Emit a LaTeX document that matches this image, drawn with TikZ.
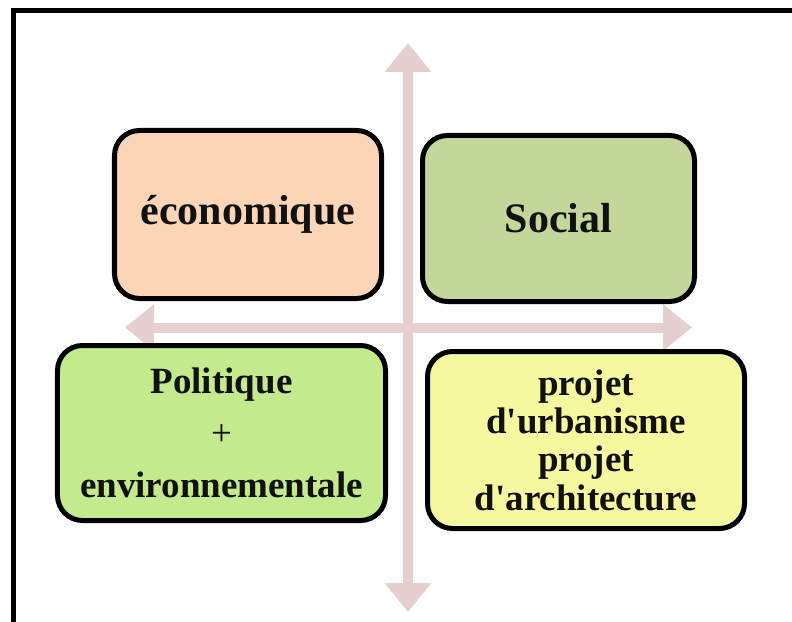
\documentclass[tikz,border=0pt]{standalone}
\usepackage{fontspec}
\setmainfont{Liberation Serif}
\usetikzlibrary{arrows.meta}
\definecolor{axispink}{HTML}{E6CFCF}
\definecolor{ecofill}{HTML}{FBD5B5}
\definecolor{socfill}{HTML}{C4D79B}
\definecolor{polfill}{HTML}{C4EA8E}
\definecolor{projfill}{HTML}{F6F8A0}
\definecolor{ink}{HTML}{111111}
\tikzset{
  pole/.style={draw=black, line width=5bp, rounded corners=25bp, align=center, text=ink},
  bigtxt/.style={font=\bfseries\fontsize{42bp}{46bp}\selectfont},
  smalltxt/.style={font=\bfseries\fontsize{37bp}{38.3bp}\selectfont},
  axis/.style={draw=axispink, line width=10bp,
    {Triangle[length=29bp,width=45bp]}-{Triangle[length=29bp,width=45bp]}}
}
\begin{document}
\begin{tikzpicture}[x=1bp,y=-1bp]
\useasboundingbox (0,0) rectangle (792,622);
\clip (0,0) rectangle (792,622);
% cadre
\draw[line width=5bp] (13,640) -- (13,11) -- (810,11);
% axes
\coordinate (haut) at (408,43);
\coordinate (bas) at (408,612);
\coordinate (gauche) at (125,327.5);
\coordinate (droite) at (692,327.5);
\draw[axis] (bas) -- (haut);
\draw[axis] (gauche) -- (droite);
%
\node[pole, bigtxt, fill=ecofill, minimum width=267bp, minimum height=168bp] (eco) at (248,214.5) {économique};
\node[pole, bigtxt, fill=socfill, minimum width=272bp, minimum height=166bp] (soc) at (558.5,218.5) {Social};
\node[pole, smalltxt, fill=polfill, minimum width=328bp, minimum height=175bp] (pol) at (221.5,433)
  {Politique\\[14bp] {\mdseries +}\\[14bp] environnementale};
\node[pole, smalltxt, fill=projfill, minimum width=317bp, minimum height=177bp] (proj) at (586,440)
  {projet\\ d\textquotesingle urbanisme\\ projet\\ d\textquotesingle architecture};
\end{tikzpicture}
\end{document}
